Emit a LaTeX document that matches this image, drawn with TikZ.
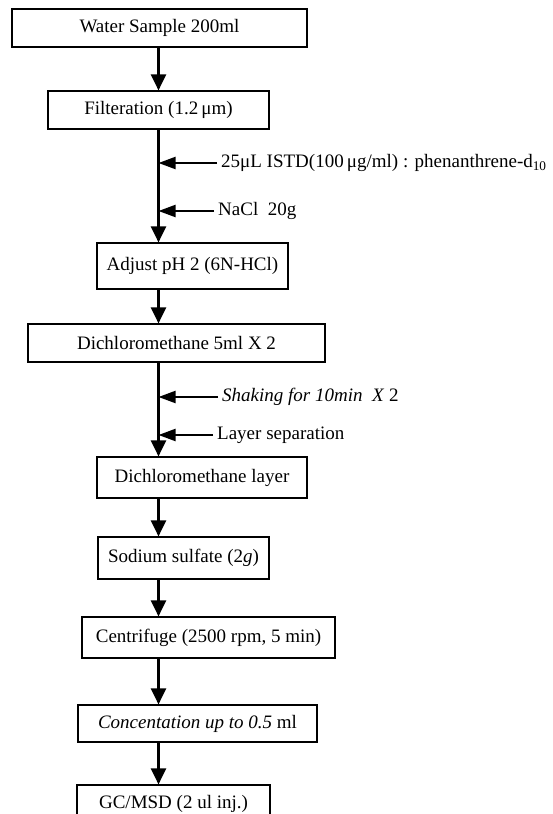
\documentclass[tikz,border=0pt]{standalone}
\usepackage[svgnames]{xcolor}
\usepackage{fontspec}
\setmainfont{Liberation Serif}
\usetikzlibrary{arrows.meta}
\pgfdeclarelayer{edgelayer}
\pgfdeclarelayer{nodelayer}
\pgfsetlayers{edgelayer,nodelayer,main}
\tikzstyle{stepbox}=[rectangle,fill=White,draw=Black,line width=1.2pt,inner sep=0pt,font=\fontsize{19}{22}\selectfont]
\tikzstyle{feedlabel}=[anchor=west,inner xsep=4pt,inner ysep=0pt,font=\fontsize{19}{22}\selectfont]
\tikzstyle{flow}=[-{Triangle[length=16pt,width=15pt]},draw=Black,line width=2.2pt]
\tikzstyle{feed}=[-{Triangle[length=17pt,width=12pt]},draw=Black,line width=2pt]
\begin{document}
\begin{tikzpicture}[x=1pt,y=-1pt]
	\useasboundingbox (0,0) rectangle (552,814);
	\coordinate (s) at (158.5,0);
	\begin{pgfonlayer}{nodelayer}
		\node [style=stepbox,minimum width=295,minimum height=38] (0) at (159.5, 28) {Water Sample 200ml};
		\node [style=stepbox,minimum width=221,minimum height=38] (1) at (158.5, 110) {Filteration (1.2\,μm)};
		\node [style=stepbox,minimum width=191,minimum height=46] (2) at (192.5, 266) {Adjust pH 2 (6N-HCl)};
		\node [style=stepbox,minimum width=297,minimum height=38] (3) at (176.5, 343) {Dichloromethane 5ml X 2};
		\node [style=stepbox,minimum width=210,minimum height=41] (4) at (202, 477.5) {Dichloromethane layer};
		\node [style=stepbox,minimum width=171,minimum height=42] (5) at (183.5, 558) {Sodium sulfate (2\textit{g})};
		\node [style=stepbox,minimum width=253,minimum height=41] (6) at (208.5, 637.5) {Centrifuge (2500 rpm, 5 min)};
		\node [style=stepbox,minimum width=239,minimum height=37] (7) at (197.5, 723.5) {\textit{Concentation up to 0.5} ml};
		\node [style=stepbox,minimum width=193,minimum height=38] (8) at (173.5, 804) {GC/MSD (2 ul inj.)};
		\node [style=feedlabel] (9) at (217, 163) {25μL ISTD(100\,μg/ml) : phenanthrene-d\textsubscript{10}};
		\node [style=feedlabel] (10) at (214, 211) {NaCl~~20g};
		\node [style=feedlabel] (11) at (218, 397) {\textit{Shaking for 10min~~X} 2};
		\node [style=feedlabel] (12) at (213, 435) {Layer separation};
	\end{pgfonlayer}
	\begin{pgfonlayer}{edgelayer}
		\draw [style=flow] (0.south -| s) to (1.north -| s);
		\draw [style=flow] (1.south -| s) to (2.north -| s);
		\draw [style=flow] (2.south -| s) to (3.north -| s);
		\draw [style=flow] (3.south -| s) to (4.north -| s);
		\draw [style=flow] (4.south -| s) to (5.north -| s);
		\draw [style=flow] (5.south -| s) to (6.north -| s);
		\draw [style=flow] (6.south -| s) to (7.north -| s);
		\draw [style=flow] (7.south -| s) to (8.north -| s);
		\draw [style=feed] (9.west) to (9.west -| s);
		\draw [style=feed] (10.west) to (10.west -| s);
		\draw [style=feed] (11.west) to (11.west -| s);
		\draw [style=feed] (12.west) to (12.west -| s);
	\end{pgfonlayer}
\end{tikzpicture}
\end{document}
